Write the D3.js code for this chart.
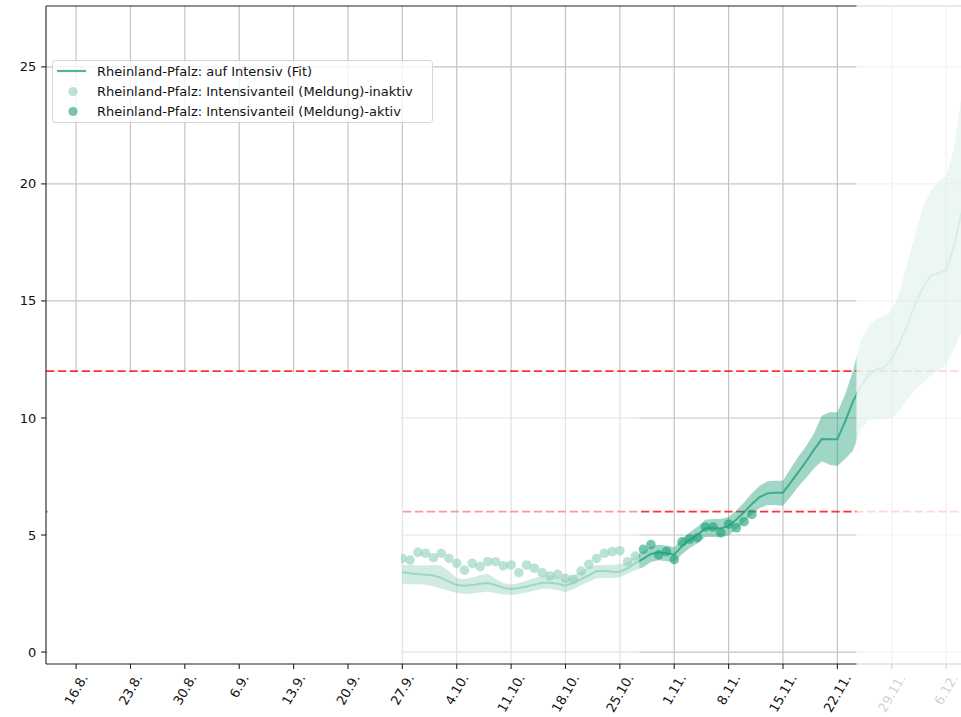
<!DOCTYPE html>
<html>
<head>
<meta charset="utf-8">
<script src="https://cdn.jsdelivr.net/npm/d3@7"></script>
<style>
  body { margin: 0; background: #fff; }
  svg { display: block; font-family: "DejaVu Sans", sans-serif; }
</style>
</head>
<body>
<svg id="chart" width="961" height="717"></svg>
<script>
// ---- data -------------------------------------------------------------
const tickDates  = ["08-16","08-23","08-30","09-06","09-13","09-20","09-27","10-04","10-11","10-18","10-25","11-01","11-08","11-15","11-22","11-29","12-06"];
const tickLabels = ["16.8.","23.8.","30.8.","6.9.","13.9.","20.9.","27.9.","4.10.","11.10.","18.10.","25.10.","1.11.","8.11.","15.11.","22.11.","29.11.","6.12."];
const yTicks = [0, 5, 10, 15, 20, 25];
const thresholds = [12, 6];

const fitDates = [
  "09-27","09-28","09-29","09-30",
  "10-01","10-02","10-03","10-04","10-05","10-06","10-07","10-08","10-09","10-10",
  "10-11","10-12","10-13","10-14","10-15","10-16","10-17","10-18","10-19","10-20",
  "10-21","10-22","10-23","10-24","10-25","10-26","10-27","10-28","10-29","10-30","10-31",
  "11-01","11-02","11-03","11-04","11-05","11-06","11-07","11-08","11-09","11-10",
  "11-11","11-12","11-13","11-14","11-15","11-16","11-17","11-18","11-19","11-20",
  "11-21","11-22","11-23","11-24","11-25","11-26","11-27","11-28","11-29","11-30",
  "12-01","12-02","12-03","12-04","12-05","12-06","12-07","12-08"
];
const fitMean = [
  3.42,3.37,3.33,3.30,3.27,3.17,3.01,2.86,2.83,2.86,2.92,2.95,2.86,2.75,2.69,2.74,
  2.80,2.88,2.96,2.96,2.92,2.84,2.95,3.12,3.28,3.46,3.46,3.43,3.42,3.58,3.80,
  3.98,4.19,4.26,4.22,4.17,4.52,4.79,5.00,5.29,5.29,5.29,5.38,5.66,5.98,6.33,
  6.62,6.78,6.81,6.81,7.25,7.70,8.15,8.65,9.10,9.09,9.09,9.85,10.70,
  11.35,11.85,12.07,12.15,12.50,13.20,13.95,14.85,15.55,16.08,16.18,16.30,17.30,18.80
];
const fitUpper = [
  3.72,3.72,3.70,3.70,3.72,3.70,3.45,3.15,3.12,3.18,3.28,3.35,3.12,2.95,2.88,2.95,
  3.05,3.15,3.25,3.28,3.20,3.10,3.25,3.45,3.62,3.72,3.72,3.72,3.75,3.85,4.10,
  4.30,4.50,4.58,4.55,4.48,4.85,5.12,5.35,5.65,5.68,5.68,5.78,6.05,6.40,6.78,
  7.10,7.30,7.32,7.32,7.85,8.35,8.80,9.35,10.10,10.25,10.25,11.00,12.00,
  13.30,13.90,14.25,14.35,14.55,15.40,16.60,17.80,19.00,19.70,20.10,20.35,21.50,23.80
];
const fitLower = [
  2.92,2.90,2.90,2.88,2.80,2.70,2.62,2.52,2.48,2.50,2.54,2.58,2.52,2.46,2.44,2.48,
  2.54,2.62,2.70,2.70,2.64,2.56,2.68,2.85,3.00,3.15,3.16,3.15,3.20,3.35,3.50,
  3.62,3.85,3.92,3.88,3.85,4.18,4.45,4.65,4.92,4.92,4.90,4.98,5.25,5.55,5.88,
  6.15,6.28,6.28,6.25,6.65,7.08,7.45,7.85,8.15,8.00,7.95,8.25,8.60,
  9.50,9.90,9.95,9.95,10.00,10.30,10.80,11.20,11.50,11.80,12.00,12.30,12.90,13.70
];

const inactiveDates = [
  "09-27","09-28","09-29","09-30","10-01","10-02","10-03","10-04","10-05","10-06",
  "10-07","10-08","10-09","10-10","10-11","10-12","10-13","10-14","10-15","10-16",
  "10-17","10-18","10-19","10-20","10-21","10-22","10-23","10-24","10-25","10-26","10-27"
];
const inactiveValues = [
  4.00,3.93,4.26,4.22,4.03,4.22,4.00,3.79,3.50,3.79,
  3.65,3.86,3.86,3.68,3.72,3.39,3.72,3.58,3.39,3.25,
  3.32,3.15,3.11,3.46,3.75,4.00,4.22,4.29,4.33,3.86,4.10
];
const activeDates = [
  "10-28","10-29","10-30","10-31","11-01","11-02","11-03","11-04",
  "11-05","11-06","11-07","11-08","11-09","11-10","11-11"
];
const activeValues = [
  4.39,4.59,4.15,4.29,3.95,4.71,4.83,4.89,5.34,5.34,5.10,5.47,5.31,5.57,5.88
];

const legendLabels = [
  "Rheinland-Pfalz: auf Intensiv (Fit)",
  "Rheinland-Pfalz: Intensivanteil (Meldung)-inaktiv",
  "Rheinland-Pfalz: Intensivanteil (Meldung)-aktiv"
];

// Phase boundaries: hidden history | inactive reports | active reports | forecast
const inactiveFrom = "09-26T20";
const activeFrom   = "10-27T12";
const forecastFrom = "11-24T11";
const phaseCeiling = 12;   // shading of the phases reaches up to this level

(function () {
// ---- helpers ----------------------------------------------------------
function day(s) {
  const [md, h] = s.split("T");
  const [m, d] = md.split("-").map(Number);
  return new Date(Date.UTC(2020, m - 1, d, h ? +h : 0));
}

const teal = "#1b9e77";
const red = "#ff0000";
const fs = 13;          // font size of all texts
const tickLen = 4.9, tickPad = 4.9;

const svg = d3.select("#chart");
const pL = 46, pR = 961, pT = 6, pB = 664;

const x = d3.scaleUtc()
  .domain([new Date(Date.UTC(2020, 7, 12, 3)), new Date(Date.UTC(2020, 11, 7, 22))])
  .range([pL, pR]);
const y = d3.scaleLinear().domain([-0.51, 27.6]).range([pB, pT]);

svg.append("defs").append("clipPath").attr("id", "plot")
  .append("rect").attr("x", pL).attr("y", pT)
  .attr("width", pR - pL).attr("height", pB - pT);

const plot = svg.append("g").attr("clip-path", "url(#plot)");

// ---- grid -------------------------------------------------------------
plot.append("g").selectAll("line").data(tickDates).join("line")
  .attr("x1", d => x(day(d))).attr("x2", d => x(day(d)))
  .attr("y1", pT).attr("y2", pB)
  .attr("stroke", "#c4c4c4").attr("stroke-width", 1.2);
plot.append("g").selectAll("line").data(yTicks).join("line")
  .attr("x1", pL).attr("x2", pR)
  .attr("y1", d => y(d)).attr("y2", d => y(d))
  .attr("stroke", "#c4c4c4").attr("stroke-width", 1.2);

// ---- threshold lines --------------------------------------------------
plot.append("g").selectAll("line").data(thresholds).join("line")
  .attr("x1", pL).attr("x2", pR)
  .attr("y1", d => y(d)).attr("y2", d => y(d))
  .attr("stroke", red).attr("stroke-opacity", 0.8)
  .attr("stroke-width", 1.6).attr("stroke-dasharray", "8.3,3.6");

// ---- fit band and line ------------------------------------------------
const fit = fitDates.map((d, i) => ({ t: day(d), m: fitMean[i], lo: fitLower[i], hi: fitUpper[i] }));
plot.append("path").datum(fit)
  .attr("d", d3.area().x(d => x(d.t)).y0(d => y(d.lo)).y1(d => y(d.hi)))
  .attr("fill", teal).attr("fill-opacity", 0.42);
plot.append("path").datum(fit)
  .attr("d", d3.line().x(d => x(d.t)).y(d => y(d.m)))
  .attr("fill", "none").attr("stroke", teal).attr("stroke-opacity", 0.75)
  .attr("stroke-width", 2);

// ---- reported points --------------------------------------------------
const pts = inactiveDates.map((d, i) => ({ t: day(d), v: inactiveValues[i] }))
  .concat(activeDates.map((d, i) => ({ t: day(d), v: activeValues[i] })));
plot.append("g").selectAll("circle").data(pts).join("circle")
  .attr("cx", d => x(d.t)).attr("cy", d => y(d.v)).attr("r", 4.8)
  .attr("fill", teal).attr("fill-opacity", 0.6);

// ---- phase veils below the ceiling ------------------------------------
const veilTop = y(phaseCeiling) + 1.3;
svg.append("rect")
  .attr("x", pL + 1.5).attr("y", veilTop)
  .attr("width", x(day(inactiveFrom)) - pL - 1.5).attr("height", pB - 0.5 - veilTop)
  .attr("fill", "#fff");
svg.append("rect")
  .attr("x", x(day(inactiveFrom))).attr("y", veilTop)
  .attr("width", x(day(activeFrom)) - x(day(inactiveFrom))).attr("height", pB - 0.5 - veilTop)
  .attr("fill", "#fff").attr("fill-opacity", 0.5);

// ---- axes frame -------------------------------------------------------
const frame = svg.append("g").attr("stroke", "#222").attr("stroke-width", 1.1);
frame.append("line").attr("x1", pL).attr("x2", pL).attr("y1", pT).attr("y2", pB);
frame.append("line").attr("x1", pL).attr("x2", pR).attr("y1", pB).attr("y2", pB);
frame.append("line").attr("x1", pL).attr("x2", pR).attr("y1", pT).attr("y2", pT);

// y axis ticks and labels
const yAx = svg.append("g");
yAx.selectAll("line").data(yTicks).join("line")
  .attr("x1", pL - tickLen).attr("x2", pL)
  .attr("y1", d => y(d)).attr("y2", d => y(d))
  .attr("stroke", "#222").attr("stroke-width", 1.1);
yAx.selectAll("text").data(yTicks).join("text")
  .attr("x", pL - tickLen - tickPad).attr("y", d => y(d)).attr("dy", "0.35em")
  .attr("text-anchor", "end").attr("font-size", fs).attr("fill", "#111")
  .text(d => d);

// x axis ticks and rotated labels
const xAx = svg.append("g");
xAx.selectAll("line").data(tickDates).join("line")
  .attr("x1", d => x(day(d))).attr("x2", d => x(day(d)))
  .attr("y1", pB).attr("y2", pB + tickLen)
  .attr("stroke", "#222").attr("stroke-width", 1.1);
const sin60 = Math.sin(Math.PI / 3), cos60 = 0.5;
xAx.selectAll("text").data(tickDates).join("text")
  .attr("text-anchor", "middle").attr("dy", "0.35em")
  .attr("font-size", fs).attr("fill", "#111")
  .text((d, i) => tickLabels[i])
  .each(function (d) {
    const len = this.getComputedTextLength();
    const h = fs * 1.164;
    const cy = pB + tickLen + 2.5 + (len * sin60 + h * cos60) / 2;
    d3.select(this).attr("transform", `translate(${x(day(d))},${cy}) rotate(-60)`);
  });

// ---- forecast veil ----------------------------------------------------
svg.append("rect")
  .attr("x", x(day(forecastFrom))).attr("y", 0)
  .attr("width", pR - x(day(forecastFrom))).attr("height", 717)
  .attr("fill", "#fff").attr("fill-opacity", 0.8);

// ---- legend -----------------------------------------------------------
const lg = svg.append("g").attr("transform", "translate(52.5,60.5)");
lg.append("rect").attr("width", 380).attr("height", 62).attr("rx", 3)
  .attr("fill", "#fff").attr("fill-opacity", 0.8)
  .attr("stroke", "#d6d6d6").attr("stroke-width", 1);
lg.append("line").attr("x1", 4.5).attr("x2", 33.5).attr("y1", 10.5).attr("y2", 10.5)
  .attr("stroke", teal).attr("stroke-opacity", 0.75).attr("stroke-width", 2.2);
lg.append("circle").attr("cx", 20.5).attr("cy", 31).attr("r", 4.6)
  .attr("fill", teal).attr("fill-opacity", 0.3);
lg.append("circle").attr("cx", 20.5).attr("cy", 51).attr("r", 4.6)
  .attr("fill", teal).attr("fill-opacity", 0.6);
lg.selectAll("text").data(legendLabels).join("text")
  .attr("x", 44.5).attr("y", (d, i) => 10.5 + i * 20.3).attr("dy", "0.35em")
  .attr("font-size", fs).attr("fill", "#111")
  .text(d => d);
})();
</script>
</body>
</html>
